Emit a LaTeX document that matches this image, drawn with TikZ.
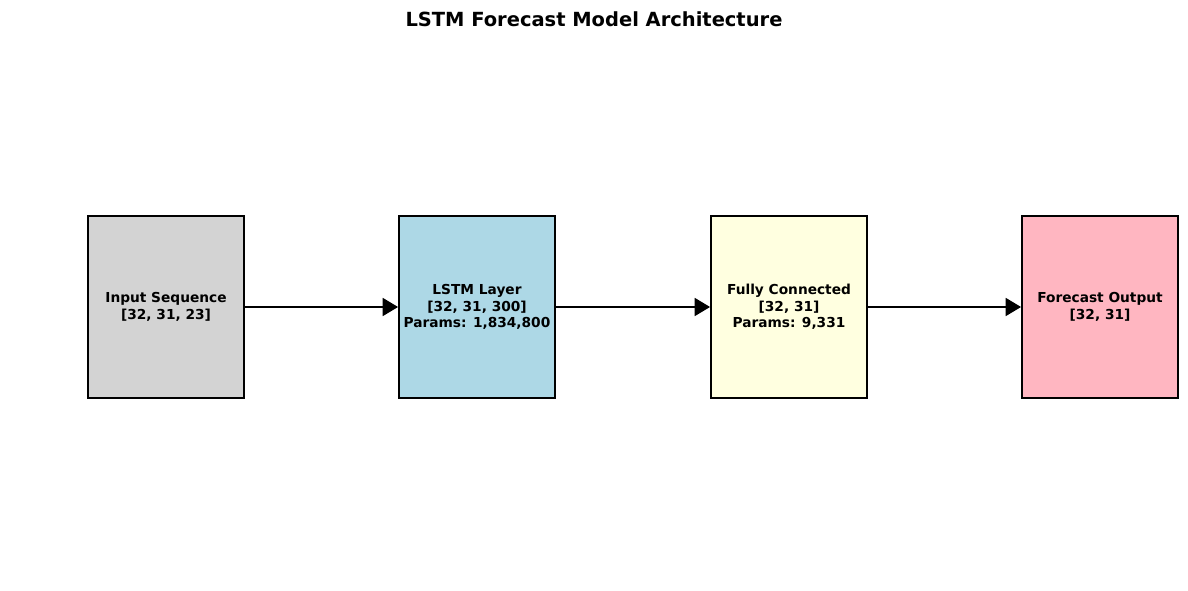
\documentclass[tikz,border=0pt]{standalone}
\usepackage{fontspec}
\setmainfont{DejaVu Sans}
\usetikzlibrary{arrows.meta}

\begin{document}
\begin{tikzpicture}[x=0.75pt,y=-0.75pt,>={Triangle[length=11.5pt,width=13.5pt]},
  layer/.style={draw,line width=1.4pt,minimum width=117pt,minimum height=136.5pt,align=center,
    font=\fontsize{10.3}{12.3}\selectfont\bfseries,inner sep=0pt},
  flow/.style={->,line width=1.1pt}]
\useasboundingbox (0,0) rectangle (1188,590);
\node[font=\fontsize{14.6}{16}\selectfont\bfseries] (title) at (594,19){LSTM Forecast Model Architecture};
\node[layer,fill={rgb,255:red,211;green,211;blue,211}] (inp) at (166,307){Input Sequence\\{}[32, 31, 23]};
\node[layer,fill={rgb,255:red,173;green,216;blue,230}] (lstm) at (477,307){LSTM Layer\\{}[32, 31, 300]\\Params: 1,834,800};
\node[layer,fill={rgb,255:red,255;green,255;blue,224}] (fc) at (789,307){Fully Connected\\{}[32, 31]\\Params: 9,331};
\node[layer,fill={rgb,255:red,255;green,182;blue,193}] (out) at (1100,307){Forecast Output\\{}[32, 31]};
\draw[flow] (inp.east)--(lstm.west);
\draw[flow] (lstm.east)--(fc.west);
\draw[flow] (fc.east)--(out.west);
\end{tikzpicture}
\end{document}
